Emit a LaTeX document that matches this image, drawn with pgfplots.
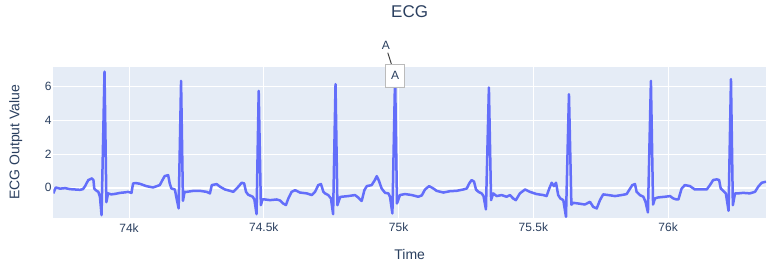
\documentclass[border=0pt]{standalone}
\usepackage{fontspec}
\setmainfont{Liberation Sans}
\usepackage{pgfplots}
\usepackage{pgfplotstable}
\pgfplotsset{compat=1.18}
\definecolor{plotbg}{HTML}{E5ECF6}
\definecolor{trace}{HTML}{636EFA}
\definecolor{txt}{HTML}{2A3F5F}
\definecolor{annline}{HTML}{444444}
\definecolor{boxgray}{HTML}{BBBBBB}

\pgfplotstableread{
t v
73719 -0.33
73728 0.02
73744 -0.05
73763 -0.02
73781 -0.08
73800 -0.10
73818 -0.12
73829 -0.08
73837 0.10
73842 0.26
73849 0.46
73855 0.50
73862 0.56
73868 0.45
73871 -0.04
73874 -0.10
73880 -0.18
73886 -0.24
73892 -0.53
73898 -1.62
73909 6.88
73916 -0.85
73922 -0.33
73934 -0.39
73948 -0.36
73967 -0.30
73985 -0.27
73996 -0.24
74009 -0.30
74015 0.26
74025 0.28
74040 0.24
74064 0.10
74089 0.02
74114 0.16
74124 0.46
74132 0.69
74145 0.75
74151 0.26
74157 -0.04
74170 -0.10
74176 -0.60
74184 -1.22
74193 6.33
74200 -0.77
74206 -0.24
74214 -0.24
74239 -0.18
74263 -0.18
74288 -0.24
74300 -0.33
74307 0.16
74325 0.22
74338 0.06
74356 -0.10
74375 -0.18
74387 -0.24
74405 0.06
74418 0.30
74427 0.26
74434 -0.24
74442 -0.41
74459 -0.53
74465 -0.70
74473 -1.56
74481 5.74
74489 -1.03
74495 -0.69
74504 -0.69
74523 -0.73
74548 -0.69
74560 -0.75
74572 -0.93
74582 -1.02
74591 -0.63
74603 -0.24
74616 -0.14
74634 -0.28
74659 -0.33
74678 -0.43
74690 -0.24
74702 0.16
74712 0.22
74721 -0.24
74727 -0.33
74739 -0.43
74749 -0.63
74757 -1.56
74766 6.14
74773 -1.03
74783 -0.55
74789 -0.53
74813 -0.49
74838 -0.43
74850 -0.57
74863 -0.78
74873 -0.14
74882 0.10
74900 0.16
74912 0.46
74919 0.69
74927 0.42
74937 -0.04
74950 -0.30
74962 -0.33
74968 -0.53
74977 -1.52
74987 6.63
74994 -0.93
75005 -0.43
75024 -0.37
75049 -0.43
75073 -0.53
75086 -0.45
75098 -0.10
75113 0.10
75129 -0.04
75141 -0.18
75166 -0.28
75191 -0.20
75215 -0.18
75240 -0.10
75253 -0.04
75262 0.26
75271 0.46
75280 0.36
75287 -0.10
75296 -0.24
75308 -0.33
75315 -0.49
75324 -1.28
75335 5.94
75343 -0.73
75351 -0.33
75364 -0.49
75382 -0.43
75401 -0.53
75413 -0.43
75425 -0.63
75435 -0.73
75450 -0.33
75469 -0.10
75487 -0.24
75512 -0.37
75537 -0.43
75549 -0.49
75559 -0.04
75568 0.30
75576 0.10
75584 0.30
75592 -0.43
75600 -0.63
75611 -0.73
75621 -1.72
75632 5.54
75641 -1.00
75648 -0.89
75667 -0.93
75691 -0.99
75710 -0.83
75722 -1.13
75735 -1.22
75747 -0.73
75759 -0.39
75778 -0.43
75803 -0.49
75827 -0.43
75846 -0.37
75855 -0.14
75867 0.16
75877 0.22
75883 -0.24
75895 -0.43
75908 -0.53
75916 -0.83
75925 -1.46
75936 6.33
75944 -0.99
75951 -0.63
75963 -0.57
75988 -0.53
76007 -0.49
76019 -0.63
76031 -0.69
76038 -0.69
76050 -0.04
76062 0.16
76081 0.10
76099 -0.10
76118 -0.10
76143 -0.10
76155 0.16
76167 0.46
76180 0.50
76189 0.46
76195 -0.04
76204 -0.18
76214 -0.33
76224 -1.36
76233 6.43
76240 -1.03
76248 -0.33
76260 -0.33
76278 -0.30
76303 -0.33
76322 -0.24
76334 0.06
76347 0.30
76363 0.36
}\ecgdata

\begin{document}
\begin{tikzpicture}
\useasboundingbox (-53.3pt,-49.3pt) rectangle (716.7pt,217.7pt);
\begin{axis}[
  at={(0pt,0pt)}, anchor=south west,
  scale only axis, width=712.7pt, height=151pt,
  xmin=73719, xmax=76363, ymin=-1.77, ymax=7.17,
  scaled x ticks=false, scaled y ticks=false,
  axis background/.style={fill=plotbg},
  axis line style={draw=none},
  major tick length=0pt,
  xtick={74000,74500,75000,75500,76000},
  xticklabels={74k,74.5k,75k,75.5k,76k},
  ytick={2,4,6}, yticklabels={2,4,6},
  extra y ticks={0}, extra y tick labels={0},
  extra y tick style={major grid style={white, line width=2pt}},
  grid=major, major grid style={white, line width=1pt},
  tick label style={font=\fontsize{12}{14}\selectfont, text=txt},
  xticklabel style={anchor=center, yshift=-10pt, inner sep=0pt},
  yticklabel style={anchor=east, xshift=-1.6pt, inner sep=0pt},
  title={ECG},
  every axis title/.style={font=\fontsize{17}{20}\selectfont, text=txt, at={(axis description cs:0.5,1.3623)}, anchor=center},
  xlabel={Time},
  xlabel style={font=\fontsize{14}{17}\selectfont, text=txt, at={(axis description cs:0.5,-0.2404)}, anchor=center},
  ylabel={ECG Output Value},
  ylabel style={font=\fontsize{14}{17}\selectfont, text=txt, at={(axis description cs:-0.0526,0.5)}, anchor=center},
]
\addplot[trace, line width=2.5pt, line join=round, no markers] table[x=t, y=v] {\ecgdata};
\coordinate (peak) at (axis cs:74987,6.63);
\end{axis}
\draw[annline, line width=1pt] ([shift={(-7.3pt,23.1pt)}]peak) -- (peak);
\node[draw=boxgray, fill=white, line width=1pt, minimum width=18.6pt, minimum height=23pt, inner sep=0pt, text=txt, font=\fontsize{12}{14}\selectfont] at (peak) {A};
\node[text=txt, inner sep=0pt, font=\fontsize{12}{14}\selectfont] at ([shift={(-9.3pt,30.8pt)}]peak) {A};
\end{tikzpicture}
\end{document}
